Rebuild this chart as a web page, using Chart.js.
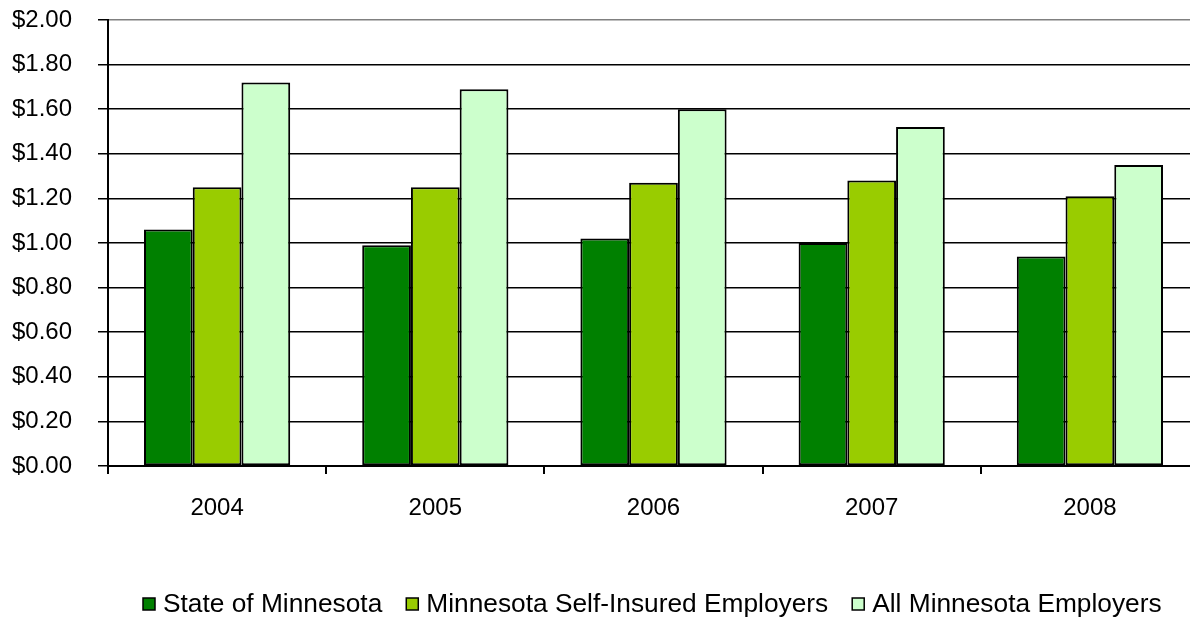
<!DOCTYPE html>
<html>
<head>
<meta charset="utf-8">
<script src="https://cdn.jsdelivr.net/npm/chart.js@4.4.1/dist/chart.umd.min.js"></script>
<style>
    html, body { margin: 0; padding: 0; background: #fff; overflow: hidden; }
    #wrap { position: relative; width: 1200px; height: 619px; }
</style>
</head>
<body>
<div id="wrap"><canvas id="costChart" width="1200" height="619"></canvas></div>
<script>
// dados do gráfico
const years = ['2004', '2005', '2006', '2007', '2008'];
const seriesNames = ['State of Minnesota', 'Minnesota Self-Insured Employers', 'All Minnesota Employers'];
const stateValues = [1.06, 0.99, 1.02, 1.00, 0.94];
const selfInsuredValues = [1.25, 1.25, 1.27, 1.28, 1.21];
const allEmployersValues = [1.72, 1.69, 1.60, 1.52, 1.35];
const yTicks = [0, 0.2, 0.4, 0.6, 0.8, 1.0, 1.2, 1.4, 1.6, 1.8, 2.0];

const colors = ['#008000', '#99CC00', '#CCFFCC'];
const fontFamily = "'Liberation Sans', Arial, sans-serif";

// legenda desenhada à mão (posição fixa, como no original)
const manualLegend = {
    id: 'manualLegend',
    afterDraw(chart) {
        const ctx = chart.ctx;
        ctx.save();
        ctx.font = '26.3px ' + fontFamily;
        ctx.textBaseline = 'middle';
        let x = 143;
        const y = 604;
        chart.data.datasets.forEach((ds, i) => {
            ctx.fillStyle = ds.backgroundColor;
            ctx.fillRect(x, y - 6, 12, 12);
            ctx.strokeStyle = '#000';
            ctx.lineWidth = 1.5;
            ctx.strokeRect(x, y - 6, 12, 12);
            ctx.fillStyle = '#000';
            ctx.fillText(ds.label, x + 20, y + 1);
            x += 20 + ctx.measureText(ds.label).width + 24;
        });
        ctx.restore();
    }
};

const datasetValues = [stateValues, selfInsuredValues, allEmployersValues];

new Chart(document.getElementById('costChart'), {
    type: 'bar',
    data: {
        labels: years,
        datasets: datasetValues.map((vals, i) => ({
            label: seriesNames[i],
            data: vals,
            backgroundColor: colors[i],
            borderColor: '#000',
            borderWidth: 2,
            borderSkipped: false,
            categoryPercentage: 0.67,
            barPercentage: 1.0
        }))
    },
    options: {
        responsive: false,
        animation: false,
        devicePixelRatio: 1,
        layout: { padding: { top: 20, right: 1, bottom: 93, left: 0 } },
        plugins: {
            legend: { display: false },
            tooltip: { enabled: false }
        },
        scales: {
            y: {
                min: 0,
                max: 2,
                afterFit(scale) {
                    scale.width = 108;
                    scale.paddingTop = 0;
                    scale.paddingBottom = 0;
                },
                afterBuildTicks(scale) { scale.ticks = yTicks.map(v => ({ value: v })); },
                border: { display: true, color: '#000', width: 2 },
                grid: {
                    color: ctx => (ctx.tick && ctx.tick.value === 2 ? '#808080' : '#000'),
                    lineWidth: 1.5,
                    drawTicks: true,
                    tickLength: 10,
                    tickColor: '#000'
                },
                ticks: {
                    color: '#000',
                    padding: 26,
                    font: { family: fontFamily, size: 24 },
                    callback: v => '$' + Number(v).toFixed(2)
                }
            },
            x: {
                afterFit(scale) { scale.height = 60; },
                border: { display: true, color: '#000', width: 2 },
                grid: {
                    offset: true,
                    drawOnChartArea: false,
                    drawTicks: true,
                    tickLength: 8,
                    color: '#000',
                    lineWidth: 2
                },
                ticks: {
                    color: '#000',
                    padding: 20,
                    font: { family: fontFamily, size: 24 }
                }
            }
        }
    },
    plugins: [manualLegend]
});
</script>
</body>
</html>
